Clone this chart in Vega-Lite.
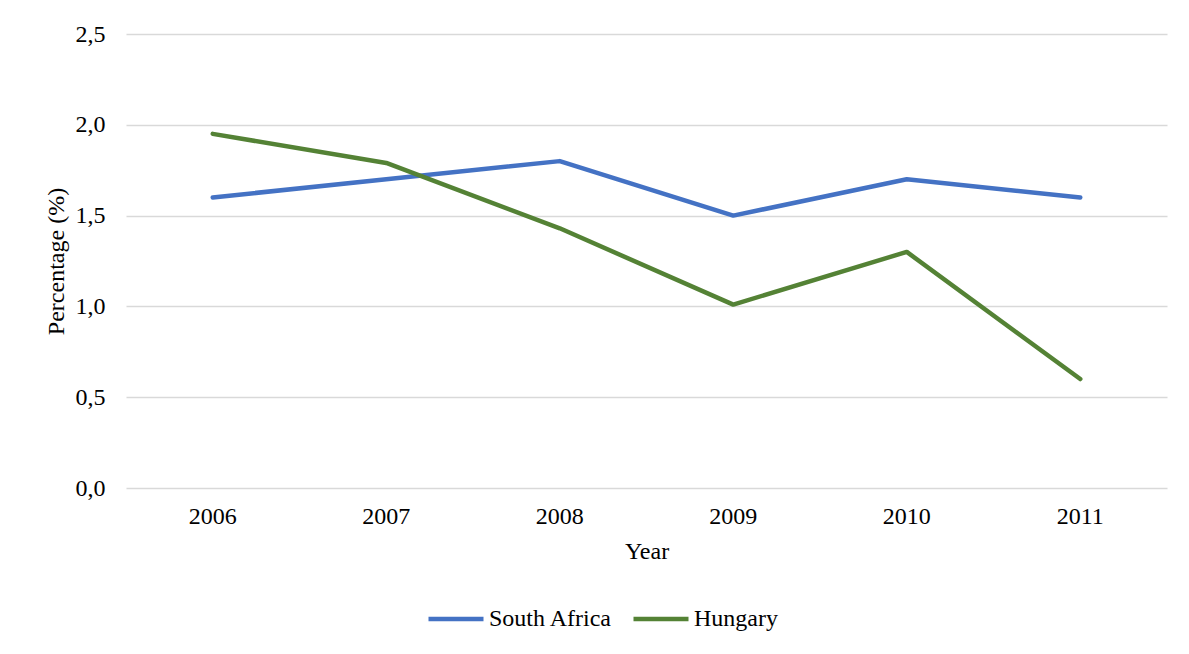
{
  "$schema": "https://vega.github.io/schema/vega-lite/v6.json",
  "width": 1041,
  "height": 454,
  "autosize": {"type": "none"},
  "padding": {"left": 126, "top": 34, "right": 22, "bottom": 166},
  "background": "white",
  "data": {
    "values": [
      {"Year": "2006", "Country": "South Africa", "Percentage": 1.6},
      {"Year": "2007", "Country": "South Africa", "Percentage": 1.7},
      {"Year": "2008", "Country": "South Africa", "Percentage": 1.8},
      {"Year": "2009", "Country": "South Africa", "Percentage": 1.5},
      {"Year": "2010", "Country": "South Africa", "Percentage": 1.7},
      {"Year": "2011", "Country": "South Africa", "Percentage": 1.6},
      {"Year": "2006", "Country": "Hungary", "Percentage": 1.95},
      {"Year": "2007", "Country": "Hungary", "Percentage": 1.79},
      {"Year": "2008", "Country": "Hungary", "Percentage": 1.43},
      {"Year": "2009", "Country": "Hungary", "Percentage": 1.01},
      {"Year": "2010", "Country": "Hungary", "Percentage": 1.3},
      {"Year": "2011", "Country": "Hungary", "Percentage": 0.6}
    ]
  },
  "mark": {"type": "line", "strokeWidth": 4.5, "strokeCap": "round", "strokeJoin": "round"},
  "encoding": {
    "x": {
      "field": "Year",
      "type": "ordinal",
      "scale": {"type": "band", "paddingInner": 0, "paddingOuter": 0},
      "axis": {
        "title": "Year",
        "labelAngle": 0,
        "ticks": false,
        "domain": false,
        "labelPadding": 16,
        "labelBaseline": "top",
        "titleBaseline": "alphabetic",
        "titleY": 70
      }
    },
    "y": {
      "field": "Percentage",
      "type": "quantitative",
      "scale": {"domain": [0, 2.5], "nice": false},
      "axis": {
        "title": "Percentage (%)",
        "values": [0, 0.5, 1, 1.5, 2, 2.5],
        "format": ",.1f",
        "ticks": false,
        "domain": false,
        "labelPadding": 21,
        "titleAngle": -90,
        "titleBaseline": "alphabetic",
        "titleX": -63,
        "titleY": 227
      }
    },
    "color": {
      "field": "Country",
      "type": "nominal",
      "sort": ["South Africa", "Hungary"],
      "scale": {"domain": ["South Africa", "Hungary"], "range": ["#4472C4", "#548235"]},
      "legend": {
        "title": null,
        "orient": "none",
        "direction": "horizontal",
        "legendX": 300,
        "legendY": 555,
        "symbolType": "stroke",
        "symbolSize": 3025,
        "symbolStrokeWidth": 4.5,
        "labelOffset": 3,
        "columnPadding": 11,
        "padding": 0
      }
    }
  },
  "config": {
    "locale": {"number": {"decimal": ",", "thousands": ".", "grouping": [3], "currency": ["", " €"]}},
    "font": "Liberation Serif",
    "view": {"stroke": null},
    "axis": {
      "labelFont": "Liberation Serif",
      "titleFont": "Liberation Serif",
      "labelFontSize": 24,
      "titleFontSize": 24,
      "labelColor": "#000000",
      "titleColor": "#000000",
      "titleFontWeight": "normal",
      "gridColor": "#d9d9d9",
      "gridWidth": 1.3
    },
    "axisX": {"grid": false},
    "axisY": {"grid": true},
    "legend": {
      "labelFont": "Liberation Serif",
      "labelFontSize": 24,
      "labelColor": "#000000"
    }
  }
}
